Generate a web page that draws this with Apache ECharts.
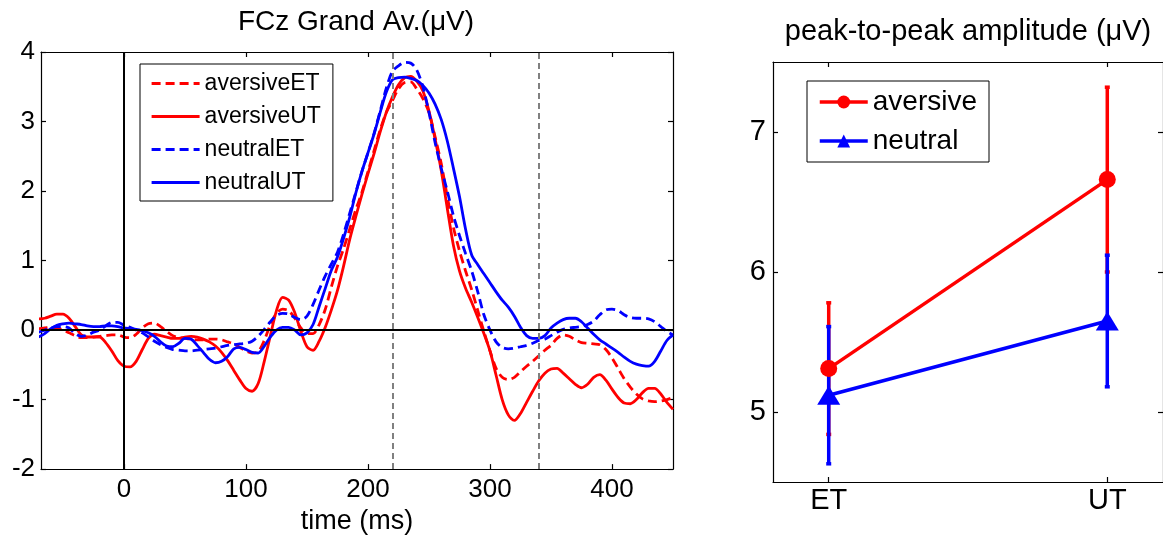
<!DOCTYPE html>
<html>
<head>
<meta charset="utf-8">
<title>FCz Grand Av.</title>
<script src="https://cdn.jsdelivr.net/npm/echarts@6.0.0/dist/echarts.min.js"></script>
<style>
  html, body { margin: 0; padding: 0; background: #fff; }
  #chart { width: 1163px; height: 540px; }
</style>
</head>
<body>
<div id="chart"></div>
<script>
// grand average at FCz, sampled every 5 ms
const times = [
  -70, -65, -60, -55, -50, -45, -40, -35, -30, -25,
  -20, -15, -10, -5, 0, 5, 10, 15, 20, 25,
  30, 35, 40, 45, 50, 55, 60, 65, 70, 75,
  80, 85, 90, 95, 100, 105, 110, 115, 120, 125,
  130, 135, 140, 145, 150, 155, 160, 165, 170, 175,
  180, 185, 190, 195, 200, 205, 210, 215, 220, 225,
  230, 235, 240, 245, 250, 255, 260, 265, 270, 275,
  280, 285, 290, 295, 300, 305, 310, 315, 320, 325,
  330, 335, 340, 345, 350, 355, 360, 365, 370, 375,
  380, 385, 390, 395, 400, 405, 410, 415, 420, 425,
  430, 435, 440, 445, 450
]
const aversiveET = [
  0.02, 0.03, 0.04, 0.03, 0.00, -0.04, -0.08, -0.11, -0.11, -0.10,
  -0.09, -0.08, -0.07, -0.07, -0.10, -0.11, -0.06, 0.03, 0.09, 0.10,
  0.05, -0.02, -0.08, -0.11, -0.12, -0.13, -0.14, -0.14, -0.13, -0.13,
  -0.14, -0.17, -0.20, -0.25, -0.30, -0.33, -0.31, -0.15, 0.08, 0.24,
  0.30, 0.28, 0.17, 0.03, -0.05, -0.05, 0.08, 0.30, 0.62, 0.92,
  1.17, 1.45, 1.73, 1.98, 2.28, 2.58, 2.88, 3.13, 3.30, 3.47,
  3.56, 3.57, 3.47, 3.33, 3.13, 2.78, 2.40, 1.92, 1.48, 1.14,
  0.85, 0.58, 0.28, -0.02, -0.30, -0.55, -0.68, -0.71, -0.68, -0.60,
  -0.52, -0.45, -0.37, -0.29, -0.22, -0.12, -0.07, -0.09, -0.14, -0.18,
  -0.19, -0.20, -0.21, -0.28, -0.40, -0.55, -0.70, -0.82, -0.92, -0.99,
  -1.02, -1.03, -1.02, -1.00, -0.97
]
const aversiveUT = [
  0.16, 0.17, 0.20, 0.23, 0.23, 0.17, 0.05, -0.07, -0.10, -0.10,
  -0.10, -0.18, -0.30, -0.44, -0.52, -0.53, -0.45, -0.28, -0.12, -0.06,
  -0.08, -0.10, -0.12, -0.12, -0.10, -0.09, -0.10, -0.13, -0.17, -0.23,
  -0.32, -0.44, -0.58, -0.72, -0.84, -0.88, -0.77, -0.45, -0.08, 0.28,
  0.47, 0.43, 0.25, -0.02, -0.24, -0.29, -0.16, 0.04, 0.29, 0.57,
  0.92, 1.30, 1.63, 1.95, 2.25, 2.54, 2.85, 3.13, 3.35, 3.53,
  3.63, 3.65, 3.58, 3.44, 3.15, 2.75, 2.30, 1.75, 1.22, 0.85,
  0.60, 0.40, 0.18, -0.05, -0.30, -0.65, -1.00, -1.22, -1.30, -1.20,
  -1.04, -0.88, -0.73, -0.62, -0.56, -0.55, -0.62, -0.70, -0.78, -0.83,
  -0.78, -0.68, -0.64, -0.72, -0.85, -0.97, -1.05, -1.06, -1.00, -0.90,
  -0.84, -0.84, -0.92, -1.04, -1.14
]
const neutralET = [
  -0.03, 0.00, 0.03, 0.05, 0.05, 0.03, -0.05, -0.09, -0.07, -0.03,
  0.00, 0.06, 0.11, 0.11, 0.07, 0.04, 0.00, -0.04, -0.10, -0.16,
  -0.21, -0.25, -0.28, -0.29, -0.30, -0.30, -0.29, -0.28, -0.27, -0.26,
  -0.24, -0.22, -0.21, -0.20, -0.19, -0.16, -0.09, 0.01, 0.12, 0.21,
  0.24, 0.23, 0.18, 0.15, 0.20, 0.37, 0.58, 0.78, 0.95, 1.12,
  1.38, 1.68, 1.98, 2.28, 2.55, 2.83, 3.15, 3.48, 3.72, 3.80,
  3.85, 3.84, 3.74, 3.50, 3.13, 2.70, 2.33, 2.00, 1.65, 1.36,
  1.10, 0.85, 0.55, 0.22, 0.00, -0.17, -0.25, -0.27, -0.26, -0.24,
  -0.22, -0.19, -0.15, -0.13, -0.08, -0.03, 0.01, 0.03, 0.04, 0.05,
  0.08, 0.13, 0.22, 0.29, 0.30, 0.28, 0.22, 0.18, 0.17, 0.17,
  0.16, 0.12, 0.05, -0.02, -0.07
]
const neutralUT = [
  -0.10, -0.05, 0.02, 0.07, 0.09, 0.10, 0.09, 0.08, 0.06, 0.05,
  0.05, 0.06, 0.06, 0.05, 0.03, 0.02, 0.01, -0.01, -0.04, -0.09,
  -0.17, -0.23, -0.24, -0.19, -0.12, -0.13, -0.22, -0.32, -0.42, -0.47,
  -0.45, -0.38, -0.27, -0.25, -0.28, -0.32, -0.33, -0.23, -0.10, 0.00,
  0.04, 0.04, 0.00, -0.07, -0.04, 0.08, 0.34, 0.60, 0.86, 1.05,
  1.32, 1.62, 1.97, 2.28, 2.55, 2.82, 3.13, 3.42, 3.60, 3.63,
  3.64, 3.62, 3.59, 3.52, 3.41, 3.25, 3.03, 2.72, 2.33, 1.92,
  1.45, 1.08, 0.94, 0.81, 0.68, 0.55, 0.43, 0.33, 0.20, 0.04,
  -0.08, -0.12, -0.12, -0.08, 0.03, 0.10, 0.15, 0.17, 0.17, 0.12,
  0.03, -0.06, -0.14, -0.20, -0.26, -0.32, -0.39, -0.45, -0.49, -0.51,
  -0.52, -0.45, -0.30, -0.15, -0.07
]
const timeTicks = [0, 100, 200, 300, 400]
const windowMarks = [220, 340]

// peak-to-peak amplitude, mean and error per condition
const conditions = ['ET', 'UT']
const aversiveMean = [5.31, 6.66]
const aversiveErr = [0.47, 0.66]
const neutralMean = [5.12, 5.65]
const neutralErr = [0.49, 0.47]
const ampTicks = [5, 6, 7]

const FONT = '"Liberation Sans", Arial, sans-serif'
const RED = '#ff0000'
const BLUE = '#0000ff'
const frameLine = { lineStyle: { color: '#000', width: 1.2 } }

function zipTimes(values) {
  return times.map(function (t, i) { return [t, values[i]] })
}
function byCondition(values) {
  return conditions.map(function (c, i) { return [i + 1, values[i]] })
}
function errRange(mean, err) {
  return conditions.map(function (c, i) { return [i + 1, mean[i] - err[i], mean[i] + err[i]] })
}

function frameAxis(extra) {
  return Object.assign({
    type: 'value',
    axisLine: { show: true, onZero: false, lineStyle: frameLine.lineStyle },
    axisTick: { show: true, inside: true, length: 5, lineStyle: frameLine.lineStyle },
    axisLabel: { show: false },
    splitLine: { show: false },
  }, extra)
}

function erpSeries(name, values, color, dashed) {
  return {
    name: name,
    type: 'line',
    xAxisIndex: 0,
    yAxisIndex: 0,
    data: zipTimes(values),
    symbol: 'none',
    smooth: 0.3,
    lineStyle: { color: color, width: 2.8, type: dashed ? [9, 5] : 'solid' },
    itemStyle: { color: color },
  }
}

function errorBars(color) {
  return function (params, api) {
    const x = api.value(0)
    const lo = api.coord([x, api.value(1)])
    const hi = api.coord([x, api.value(2)])
    const style = { stroke: color, lineWidth: 3.5 }
    return {
      type: 'group',
      children: [
        { type: 'line', shape: { x1: lo[0], y1: lo[1], x2: hi[0], y2: hi[1] }, style: style },
        { type: 'line', shape: { x1: lo[0] - 2.5, y1: lo[1], x2: lo[0] + 2.5, y2: lo[1] }, style: style },
        { type: 'line', shape: { x1: hi[0] - 2.5, y1: hi[1], x2: hi[0] + 2.5, y2: hi[1] }, style: style },
      ],
    }
  }
}

const chart = echarts.init(document.getElementById('chart'))

const zeroAxes = erpSeries('aversiveET', aversiveET, RED, true)
zeroAxes.markLine = {
  silent: true,
  symbol: 'none',
  label: { show: false },
  lineStyle: { color: '#000', width: 2, type: 'solid' },
  data: [{ yAxis: 0 }, { xAxis: 0 }],
}
const windows = erpSeries('neutralUT', neutralUT, BLUE, false)
windows.markLine = {
  silent: true,
  symbol: 'none',
  label: { show: false },
  lineStyle: { color: '#808080', width: 2, type: [6, 4] },
  data: windowMarks.map(function (t) { return { xAxis: t } }),
}

const option = {
  animation: false,
  backgroundColor: '#fff',
  textStyle: { fontFamily: FONT, color: '#000' },
  graphic: [
    { type: 'text', x: 356, y: 22, style: { text: 'FCz Grand Av.(\u03bcV)', font: '28px ' + FONT, fill: '#000', textAlign: 'center', textVerticalAlign: 'middle' } },
    { type: 'text', x: 968, y: 32, style: { text: 'peak-to-peak amplitude (\u03bcV)', font: '29px ' + FONT, fill: '#000', textAlign: 'center', textVerticalAlign: 'middle' } },
  ],
  grid: [
    { left: 41, top: 52, width: 632, height: 420 },
    { left: 773, top: 62, width: 395, height: 420 },
  ],
  legend: [
    {
      data: ['aversiveET', 'aversiveUT', 'neutralET', 'neutralUT'],
      orient: 'vertical',
      left: 140,
      top: 64,
      padding: [8, 12, 7, 10],
      itemWidth: 48,
      itemHeight: 14,
      itemGap: 10,
      selectedMode: false,
      borderColor: '#000',
      borderWidth: 1,
      backgroundColor: '#fff',
      itemStyle: { opacity: 0 },
      lineStyle: { width: 3.2 },
      textStyle: { fontSize: 23, lineHeight: 22, color: '#000', fontFamily: FONT },
    },
    {
      data: ['aversive', 'neutral'],
      orient: 'vertical',
      left: 807,
      top: 81,
      padding: [7, 12, 7, 11],
      itemWidth: 48,
      itemHeight: 16,
      itemGap: 11,
      selectedMode: false,
      borderColor: '#000',
      borderWidth: 1,
      backgroundColor: '#fff',
      lineStyle: { width: 3.5 },
      textStyle: { fontSize: 28, lineHeight: 28, color: '#000', fontFamily: FONT },
    },
  ],
  xAxis: [
    frameAxis({
      gridIndex: 0, min: -68, max: 450, position: 'bottom',
      axisTick: { show: true, inside: true, length: 5, customValues: timeTicks, lineStyle: frameLine.lineStyle },
      axisLabel: { show: true, customValues: timeTicks, fontSize: 26, color: '#000', margin: 8 },
      name: 'time (ms)', nameLocation: 'middle', nameGap: 36,
      nameTextStyle: { fontSize: 27, color: '#000' },
    }),
    frameAxis({
      gridIndex: 0, min: -68, max: 450, position: 'top',
      axisTick: { show: true, inside: true, length: 5, customValues: timeTicks, lineStyle: frameLine.lineStyle },
    }),
    frameAxis({
      gridIndex: 1, min: 0.8, max: 2.2, position: 'bottom',
      axisTick: { show: true, inside: true, length: 5, customValues: [1, 2], lineStyle: frameLine.lineStyle },
      axisLabel: {
        show: true, customValues: [1, 2], fontSize: 29, color: '#000', margin: 4,
        formatter: function (v) { return conditions[Math.round(v) - 1] },
      },
    }),
    frameAxis({
      gridIndex: 1, min: 0.8, max: 2.2, position: 'top',
      axisTick: { show: true, inside: true, length: 5, customValues: [1, 2], lineStyle: frameLine.lineStyle },
    }),
  ],
  yAxis: [
    frameAxis({
      gridIndex: 0, min: -2, max: 4, interval: 1, position: 'left',
      axisLabel: { show: true, fontSize: 26, color: '#000', margin: 6 },
    }),
    frameAxis({ gridIndex: 0, min: -2, max: 4, interval: 1, position: 'right' }),
    frameAxis({
      gridIndex: 1, min: 4.5, max: 7.5, position: 'left',
      axisTick: { show: true, inside: true, length: 5, customValues: ampTicks, lineStyle: frameLine.lineStyle },
      axisLabel: { show: true, customValues: ampTicks, fontSize: 29, color: '#000', margin: 7 },
    }),
    frameAxis({
      gridIndex: 1, min: 4.5, max: 7.5, position: 'right',
      axisTick: { show: true, inside: true, length: 5, customValues: ampTicks, lineStyle: frameLine.lineStyle },
    }),
  ],
  series: [
    zeroAxes,
    erpSeries('aversiveUT', aversiveUT, RED, false),
    erpSeries('neutralET', neutralET, BLUE, true),
    windows,
    {
      type: 'custom',
      xAxisIndex: 2,
      yAxisIndex: 2,
      renderItem: errorBars(RED),
      data: errRange(aversiveMean, aversiveErr),
      encode: { x: 0, y: [1, 2] },
      silent: true,
    },
    {
      type: 'custom',
      xAxisIndex: 2,
      yAxisIndex: 2,
      renderItem: errorBars(BLUE),
      data: errRange(neutralMean, neutralErr),
      encode: { x: 0, y: [1, 2] },
      silent: true,
    },
    {
      name: 'aversive',
      type: 'line',
      xAxisIndex: 2,
      yAxisIndex: 2,
      data: byCondition(aversiveMean),
      symbol: 'circle',
      symbolSize: 17,
      lineStyle: { color: RED, width: 3.5 },
      itemStyle: { color: RED },
    },
    {
      name: 'neutral',
      type: 'line',
      xAxisIndex: 2,
      yAxisIndex: 2,
      data: byCondition(neutralMean),
      symbol: 'triangle',
      symbolSize: [23, 19],
      lineStyle: { color: BLUE, width: 3.5 },
      itemStyle: { color: BLUE },
    },
  ],
}

chart.setOption(option)
</script>
</body>
</html>
